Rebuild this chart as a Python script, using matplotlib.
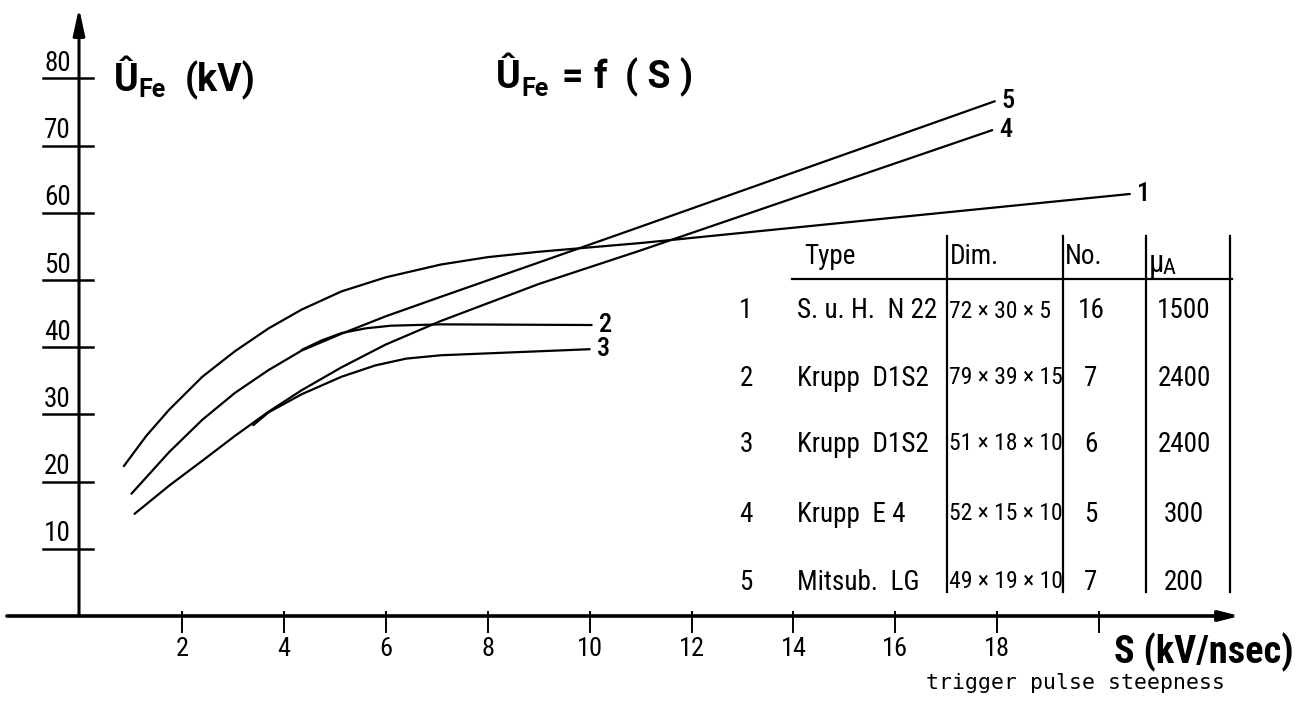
"""U_Fe = f(S): max ferrite voltage vs trigger pulse steepness, redrawn from a scanned figure."""
import matplotlib
matplotlib.use("Agg")
import matplotlib.pyplot as plt
from matplotlib import font_manager as fm

# ---- data ----
# curve: (S kV/nsec, U_Fe kV)
c1_s = [0.86, 1.3, 1.75, 2.4, 3.04, 3.7, 4.35, 5.13, 6.0, 7.08, 8.0, 9.0, 11.0, 20.6]
c1_u = [22.3, 26.8, 30.7, 35.6, 39.4, 42.8, 45.6, 48.3, 50.4, 52.3, 53.4, 54.2, 55.5, 62.8]
c2_s = [4.35, 4.74, 5.13, 5.6, 6.1, 7.08, 10.04]
c2_u = [39.6, 41.0, 42.1, 42.8, 43.2, 43.4, 43.3]
c3_s = [3.4, 3.7, 4.35, 5.13, 5.8, 6.4, 7.08, 10.0]
c3_u = [28.4, 30.3, 33.0, 35.6, 37.3, 38.3, 38.8, 39.7]
c4_s = [1.07, 1.75, 2.4, 3.04, 3.7, 4.35, 5.13, 6.0, 7.08, 9.0, 11.0, 17.9]
c4_u = [15.2, 19.4, 23.1, 26.8, 30.4, 33.6, 37.0, 40.4, 43.9, 49.4, 54.4, 72.3]
c5_s = [1.01, 1.75, 2.4, 3.04, 3.7, 4.35, 5.13, 6.0, 7.08, 9.0, 10.8, 17.95]
c5_u = [18.2, 24.4, 29.2, 33.2, 36.6, 39.5, 42.0, 44.6, 47.5, 52.6, 57.4, 76.6]
curves = [("1", c1_s, c1_u), ("2", c2_s, c2_u), ("3", c3_s, c3_u),
          ("4", c4_s, c4_u), ("5", c5_s, c5_u)]

xticks = [2, 4, 6, 8, 10, 12, 14, 16, 18, 20]
xtick_labels = ["2", "4", "6", "8", "10", "12", "14", "16", "18", ""]
yticks = [10, 20, 30, 40, 50, 60, 70, 80]

tab_header = ["Type", "Dim.", "No."]
tab_no = ["1", "2", "3", "4", "5"]
tab_type = ["S. u. H.  N 22", "Krupp  D1S2", "Krupp  D1S2", "Krupp  E 4", "Mitsub.  LG"]
tab_dim = ["72 × 30 × 5", "79 × 39 × 15", "51 × 18 × 10", "52 × 15 × 10", "49 × 19 × 10"]
tab_count = ["16", "7", "6", "5", "7"]
tab_mu = ["1500", "2400", "2400", "300", "200"]


def pick_font(names):
    for n in names:
        try:
            fm.findfont(n, fallback_to_default=False)
            return n
        except Exception:
            pass
    return "DejaVu Sans"


NARROW = pick_font(["Roboto Condensed", "Liberation Sans Narrow", "Roboto", "DejaVu Sans"])
plt.rcParams["font.family"] = [NARROW, "DejaVu Sans"]
HEAD = dict(family=[pick_font(["Roboto", "DejaVu Sans"]), "DejaVu Sans"], fontweight="bold")

W, H = 1312, 703
fig = plt.figure(figsize=(W / 100, H / 100), dpi=100)


def px(x, y):
    return x / W, 1 - y / H


ax = fig.add_axes([79 / W, 87 / H, (1240 - 79) / W, (703 - 87 - 8) / H])
ax.set_xlim(-1 / 51.05, (1240 - 78) / 51.05)
ax.set_ylim(0, (616 - 8) / 6.72)
ax.axis("off")

for lab, s, u in curves:
    ax.plot(s, u, color="black", lw=1.6, solid_capstyle="round", solid_joinstyle="round")
    ax.annotate(lab, xy=(s[-1], u[-1]), xytext=(5, 0), textcoords="offset points",
                ha="left", va="center", fontsize=19, fontweight="medium")

# axes with arrow heads
ax.annotate("", xy=(0, 1), xycoords="axes fraction", xytext=(0, 0),
            arrowprops=dict(arrowstyle="-|>,head_length=1.6,head_width=0.35",
                            lw=2.2, color="black", shrinkA=0, shrinkB=0))
ax.annotate("", xy=(1, 0), xycoords="axes fraction", xytext=(-72 / 1161, 0),
            arrowprops=dict(arrowstyle="-|>,head_length=1.2,head_width=0.3",
                            lw=2.6, color="black", shrinkA=0, shrinkB=0))

# y ticks: underlined numbers
ytr = ax.get_yaxis_transform()
for v in yticks:
    ax.plot([-36 / 1161, 14 / 1161], [v, v], transform=ytr, color="black", lw=1.8,
            clip_on=False)
    ax.text(-35 / 1161, v + 0.2, str(v), transform=ytr, ha="left", va="bottom",
            fontsize=19.5)

# x ticks
xtr = ax.get_xaxis_transform()
for v, lab in zip(xticks, xtick_labels):
    ax.plot([v, v], [4 / 608, -16 / 608], transform=xtr, color="black", lw=1.4,
            clip_on=False)
    ax.text(v, -33 / 608, lab, transform=xtr, ha="center", va="center", fontsize=19)

# axis titles
fig.text(*px(114, 91), "Û", fontsize=27, ha="left", va="baseline", **HEAD)
fig.text(*px(138, 97), "Fe", fontsize=18, ha="left", va="baseline", **HEAD)
fig.text(*px(185, 91), "(kV)", fontsize=27, ha="left", va="baseline", **HEAD)

fig.text(*px(496, 88), "Û", fontsize=27, ha="left", va="baseline", **HEAD)
fig.text(*px(521, 96), "Fe", fontsize=18, ha="left", va="baseline", **HEAD)
fig.text(*px(561, 88), "=", fontsize=27, ha="left", va="baseline", **HEAD)
fig.text(*px(593, 88), "f", fontsize=27, ha="left", va="baseline", **HEAD)
fig.text(*px(625, 88), "( S )", fontsize=27, ha="left", va="baseline", **HEAD)

fig.text(*px(1114, 663), "S (kV/nsec)", fontsize=27.5, ha="left", va="baseline",
         fontweight="bold")
fig.text(*px(926, 689), "trigger pulse steepness", fontsize=15.5, ha="left",
         va="baseline", family="DejaVu Sans Mono")

# table
for xv in (947, 1063, 1146, 1230):
    fig.add_artist(plt.Line2D([xv / W, xv / W], [1 - 236 / H, 1 - 592 / H],
                              color="black", lw=1.6))
fig.add_artist(plt.Line2D([792 / W, 1232 / W], [1 - 279 / H, 1 - 279 / H],
                          color="black", lw=1.6))
for x0, t in zip((804, 950, 1065), tab_header):
    fig.text(*px(x0, 256), t, fontsize=19.5, ha="left", va="center")
fig.text(*px(1149, 263), "μ", fontsize=22, ha="left", va="center")
fig.text(*px(1162, 269), "A", fontsize=16, ha="left", va="center")

row_y = [311, 378, 444, 514, 582]
for i, yy in enumerate(row_y):
    fig.text(*px(746, yy), tab_no[i], fontsize=19.5, ha="center", va="center")
    fig.text(*px(797, yy), tab_type[i], fontsize=19.5, ha="left", va="center")
    fig.text(*px(949, yy), tab_dim[i], fontsize=17, ha="left", va="center")
    fig.text(*px(1091, yy), tab_count[i], fontsize=19.5, ha="center", va="center")
    fig.text(*px(1184, yy), tab_mu[i], fontsize=19.5, ha="center", va="center")

fig.savefig("out.png", dpi=100, facecolor="white")
